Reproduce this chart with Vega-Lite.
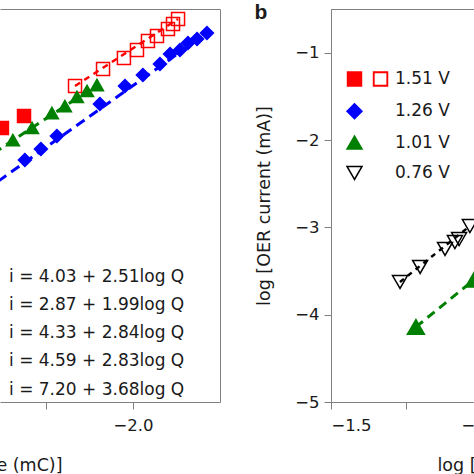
{
  "$schema": "https://vega.github.io/schema/vega-lite/v6.json",
  "autosize": {"type": "none"},
  "padding": {"left": 0, "top": 9, "right": 474, "bottom": 465},
  "background": "white",
  "config": {
    "font": "DejaVu Sans",
    "view": {"stroke": null},
    "axis": {
      "domainColor": "#808080", "tickColor": "#808080", "labelColor": "#1a1a1a", "titleColor": "#1a1a1a",
      "labelFont": "DejaVu Sans", "titleFont": "DejaVu Sans", "labelFontSize": 16.5, "titleFontSize": 17.5,
      "titleFontWeight": "normal", "grid": false, "tickSize": 7, "domainWidth": 1, "tickWidth": 1, "labelPadding": 8
    },
    "legend": {"labelFont": "DejaVu Sans", "labelColor": "#1a1a1a", "padding": 0}
  },
  "datasets": {
    "leftPoints": [
      {"logQ": -2.753, "logI": -2.422, "fit": "i = 4.03 + 2.51log Q"},
      {"logQ": -2.626, "logI": -2.178, "fit": "i = 4.03 + 2.51log Q"},
      {"logQ": -2.333, "logI": -1.567, "fit": "i = 2.87 + 1.99log Q"},
      {"logQ": -2.172, "logI": -1.221, "fit": "i = 2.87 + 1.99log Q"},
      {"logQ": -2.052, "logI": -0.997, "fit": "i = 2.87 + 1.99log Q"},
      {"logQ": -1.977, "logI": -0.835, "fit": "i = 2.87 + 1.99log Q"},
      {"logQ": -1.914, "logI": -0.651, "fit": "i = 2.87 + 1.99log Q"},
      {"logQ": -1.862, "logI": -0.55, "fit": "i = 2.87 + 1.99log Q"},
      {"logQ": -1.799, "logI": -0.407, "fit": "i = 2.87 + 1.99log Q"},
      {"logQ": -1.77, "logI": -0.305, "fit": "i = 2.87 + 1.99log Q"},
      {"logQ": -1.741, "logI": -0.204, "fit": "i = 2.87 + 1.99log Q"},
      {"logQ": -2.621, "logI": -3.074, "fit": "i = 4.33 + 2.84log Q"},
      {"logQ": -2.529, "logI": -2.85, "fit": "i = 4.33 + 2.84log Q"},
      {"logQ": -2.437, "logI": -2.585, "fit": "i = 4.33 + 2.84log Q"},
      {"logQ": -2.19, "logI": -1.934, "fit": "i = 4.33 + 2.84log Q"},
      {"logQ": -2.046, "logI": -1.567, "fit": "i = 4.33 + 2.84log Q"},
      {"logQ": -1.943, "logI": -1.344, "fit": "i = 4.33 + 2.84log Q"},
      {"logQ": -1.845, "logI": -1.12, "fit": "i = 4.33 + 2.84log Q"},
      {"logQ": -1.787, "logI": -0.916, "fit": "i = 4.33 + 2.84log Q"},
      {"logQ": -1.73, "logI": -0.835, "fit": "i = 4.33 + 2.84log Q"},
      {"logQ": -1.684, "logI": -0.692, "fit": "i = 4.33 + 2.84log Q"},
      {"logQ": -1.632, "logI": -0.611, "fit": "i = 4.33 + 2.84log Q"},
      {"logQ": -1.575, "logI": -0.489, "fit": "i = 4.33 + 2.84log Q"},
      {"logQ": -2.69, "logI": -2.667, "fit": "i = 4.59 + 2.83log Q"},
      {"logQ": -2.58, "logI": -2.422, "fit": "i = 4.59 + 2.83log Q"},
      {"logQ": -2.466, "logI": -2.117, "fit": "i = 4.59 + 2.83log Q"},
      {"logQ": -2.391, "logI": -1.975, "fit": "i = 4.59 + 2.83log Q"},
      {"logQ": -2.322, "logI": -1.791, "fit": "i = 4.59 + 2.83log Q"},
      {"logQ": -2.264, "logI": -1.669, "fit": "i = 4.59 + 2.83log Q"},
      {"logQ": -2.207, "logI": -1.547, "fit": "i = 4.59 + 2.83log Q"}
    ],
    "leftBlueFit": [{"logQ": -2.85, "logI": -3.697}, {"logQ": -1.575, "logI": -0.489}],
    "leftGreenFit": [{"logQ": -2.8, "logI": -2.933}, {"logQ": -2.207, "logI": -1.547}],
    "leftRedFit": [{"logQ": -2.333, "logI": -1.567}, {"logQ": -1.741, "logI": -0.204}],
    "rightPoints": [
      {"logQ": -1.27, "logI": -3.626, "V": "0.76 V"},
      {"logQ": -1.203, "logI": -3.454, "V": "0.76 V"},
      {"logQ": -1.12, "logI": -3.248, "V": "0.76 V"},
      {"logQ": -1.087, "logI": -3.168, "V": "0.76 V"},
      {"logQ": -1.073, "logI": -3.134, "V": "0.76 V"},
      {"logQ": -1.037, "logI": -2.985, "V": "0.76 V"},
      {"logQ": -1.217, "logI": -4.141, "V": "1.01 V"},
      {"logQ": -1.023, "logI": -3.6, "V": "1.01 V"}
    ],
    "rightGreenFit": [{"logQ": -1.217, "logI": -4.141}, {"logQ": -1.023, "logI": -3.6}],
    "rightBlackFit": [{"logQ": -1.27, "logI": -3.626}, {"logQ": -1.037, "logI": -2.985}]
  },
  "bounds": "flush",
  "spacing": 111,
  "resolve": {
    "scale": {"x": "independent", "y": "independent", "shape": "independent", "fill": "independent", "stroke": "independent", "size": "independent"},
    "legend": {"shape": "independent", "fill": "independent", "stroke": "independent", "size": "independent"}
  },
  "hconcat": [
    {
      "width": 220,
      "height": 393,
      "view": {"stroke": null},
      "resolve": {"axis": {"x": "independent", "y": "independent"}},
      "layer": [
        {
          "data": {"name": "leftBlueFit"},
          "mark": {"type": "line", "color": "#0000ff", "strokeWidth": 3, "strokeDash": [10, 6], "clip": true},
          "encoding": {
            "x": {"field": "logQ", "type": "quantitative", "scale": {"domain": [-2.764, -1.5], "nice": false, "zero": false},
                  "axis": {"orient": "bottom", "values": [-2.5, -2.0], "format": ".1f", "labelExpr": "datum.value == -2 ? datum.label : ''",
                           "title": "log [charge (mC)]", "titleAlign": "right", "titleX": 62, "titlePadding": 23}},
            "y": {"field": "logI", "type": "quantitative", "scale": {"domain": [-8, 0], "nice": false, "zero": false}, "axis": null}
          }
        },
        {
          "data": {"name": "leftGreenFit"},
          "mark": {"type": "line", "color": "#008000", "strokeWidth": 3, "strokeDash": [9, 6], "clip": true},
          "encoding": {
            "x": {"field": "logQ", "type": "quantitative", "scale": {"domain": [-2.764, -1.5], "nice": false, "zero": false},
                  "axis": {"orient": "top", "ticks": false, "labels": false, "title": null}},
            "y": {"field": "logI", "type": "quantitative", "scale": {"domain": [-8, 0], "nice": false, "zero": false},
                  "axis": {"orient": "right", "ticks": false, "labels": false, "title": null}}
          }
        },
        {
          "data": {"name": "leftRedFit"},
          "mark": {"type": "line", "color": "#ff0000", "strokeWidth": 2.5, "strokeDash": [6, 5], "clip": true},
          "encoding": {
            "x": {"field": "logQ", "type": "quantitative", "scale": {"domain": [-2.764, -1.5], "nice": false, "zero": false}, "axis": null},
            "y": {"field": "logI", "type": "quantitative", "scale": {"domain": [-8, 0], "nice": false, "zero": false}, "axis": null}
          }
        },
        {
          "data": {"name": "leftPoints"},
          "mark": {"type": "point", "strokeWidth": 1.5, "opacity": 1, "clip": true},
          "encoding": {
            "x": {"field": "logQ", "type": "quantitative", "scale": {"domain": [-2.764, -1.5], "nice": false, "zero": false}, "axis": null},
            "y": {"field": "logI", "type": "quantitative", "scale": {"domain": [-8, 0], "nice": false, "zero": false}, "axis": null},
            "shape": {"field": "fit", "type": "nominal",
              "scale": {"domain": ["i = 4.03 + 2.51log Q", "i = 2.87 + 1.99log Q", "i = 4.33 + 2.84log Q", "i = 4.59 + 2.83log Q", "i = 7.20 + 3.68log Q"],
                        "range": ["square", "square", "diamond", "triangle-up", "triangle-down"]},
              "legend": {"orient": "none", "legendX": -40, "legendY": 259, "title": null, "labelFontSize": 17, "labelOffset": 32, "symbolSize": 64, "rowPadding": 10.25, "labelLimit": 400}},
            "fill": {"field": "fit", "type": "nominal",
              "scale": {"domain": ["i = 4.03 + 2.51log Q", "i = 2.87 + 1.99log Q", "i = 4.33 + 2.84log Q", "i = 4.59 + 2.83log Q", "i = 7.20 + 3.68log Q"],
                        "range": ["#ff0000", "transparent", "#0000ff", "#008000", "transparent"]},
              "legend": {"orient": "none", "legendX": -40, "legendY": 259, "title": null, "labelFontSize": 17, "labelOffset": 32, "symbolSize": 64, "rowPadding": 10.25, "labelLimit": 400}},
            "stroke": {"field": "fit", "type": "nominal",
              "scale": {"domain": ["i = 4.03 + 2.51log Q", "i = 2.87 + 1.99log Q", "i = 4.33 + 2.84log Q", "i = 4.59 + 2.83log Q", "i = 7.20 + 3.68log Q"],
                        "range": ["#ff0000", "#ff0000", "#0000ff", "#008000", "#000000"]},
              "legend": {"orient": "none", "legendX": -40, "legendY": 259, "title": null, "labelFontSize": 17, "labelOffset": 32, "symbolSize": 64, "rowPadding": 10.25, "labelLimit": 400}},
            "size": {"field": "fit", "type": "ordinal", "scale": {"range": [169, 169, 289, 289]}, "legend": null}
          }
        }
      ]
    },
    {
      "width": 300,
      "height": 393,
      "view": {"stroke": "#808080", "strokeWidth": 1},
      "resolve": {"axis": {"x": "independent", "y": "independent"}},
      "layer": [
        {
          "data": {"name": "rightGreenFit"},
          "mark": {"type": "line", "color": "#008000", "strokeWidth": 3, "strokeDash": [9, 6], "clip": true},
          "encoding": {
            "x": {"field": "logQ", "type": "quantitative", "scale": {"domain": [-1.5, -0.5], "nice": false, "zero": false},
                  "axis": {"values": [-1.5, -1.25, -1.0, -0.75, -0.5], "format": ".1f", "labelExpr": "datum.value % 0.5 == 0 ? datum.label : ''",
                           "title": "log [charge (mC)]", "titleAlign": "left", "titleX": 106, "titlePadding": 23}},
            "y": {"field": "logI", "type": "quantitative", "scale": {"domain": [-5, -0.5], "nice": false, "zero": false},
                  "axis": {"values": [-5, -4.5, -4, -3.5, -3, -2.5, -2, -1.5, -1], "format": "d", "labelExpr": "datum.value % 1 == 0 ? datum.label : ''",
                           "title": "log [OER current (mA)]", "labelPadding": 5, "titlePadding": 21}}
          }
        },
        {
          "data": {"name": "rightBlackFit"},
          "mark": {"type": "line", "color": "#000000", "strokeWidth": 2.5, "strokeDash": [5, 5], "clip": true},
          "encoding": {
            "x": {"field": "logQ", "type": "quantitative",
                  "axis": {"orient": "top", "domain": false, "ticks": false, "labels": false, "title": "b",
                           "titleX": -77, "titleY": 9, "titleAlign": "left", "titleBaseline": "alphabetic", "titleAngle": 0,
                           "titleFont": "Liberation Sans", "titleFontSize": 21, "titleFontWeight": "bold"}},
            "y": {"field": "logI", "type": "quantitative", "axis": null}
          }
        },
        {
          "data": {"name": "rightPoints"},
          "mark": {"type": "point", "strokeWidth": 1.5, "opacity": 1, "clip": true},
          "encoding": {
            "x": {"field": "logQ", "type": "quantitative", "axis": null},
            "y": {"field": "logI", "type": "quantitative", "axis": null},
            "shape": {"field": "V", "type": "nominal",
              "scale": {"domain": ["1.51 V", "1.26 V", "1.01 V", "0.76 V"],
                        "range": ["M-0.93,-0.93H0.93V0.93H-0.93Z M2.54,-0.93H4.4V0.93H2.54Z M2.59,-0.88V0.88H4.35V-0.88Z", "diamond", "triangle-up", "triangle-down"]},
              "legend": {"orient": "none", "legendX": 15, "legendY": 61.5, "title": null, "labelFontSize": 17, "labelOffset": 32, "symbolSize": 225, "symbolStrokeWidth": 1.5, "rowPadding": 11.3}},
            "fill": {"field": "V", "type": "nominal",
              "scale": {"domain": ["1.51 V", "1.26 V", "1.01 V", "0.76 V"], "range": ["#ff0000", "#0000ff", "#008000", "transparent"]},
              "legend": {"orient": "none", "legendX": 15, "legendY": 61.5, "title": null, "labelFontSize": 17, "labelOffset": 32, "symbolSize": 225, "symbolStrokeWidth": 1.5, "rowPadding": 11.3}},
            "stroke": {"field": "V", "type": "nominal",
              "scale": {"domain": ["1.51 V", "1.26 V", "1.01 V", "0.76 V"], "range": ["#ff0000", "#0000ff", "#008000", "#000000"]},
              "legend": {"orient": "none", "legendX": 15, "legendY": 61.5, "title": null, "labelFontSize": 17, "labelOffset": 32, "symbolSize": 225, "symbolStrokeWidth": 1.5, "rowPadding": 11.3}},
            "size": {"field": "V", "type": "ordinal", "scale": {"range": [225, 289]}, "legend": null}
          }
        }
      ]
    }
  ]
}
